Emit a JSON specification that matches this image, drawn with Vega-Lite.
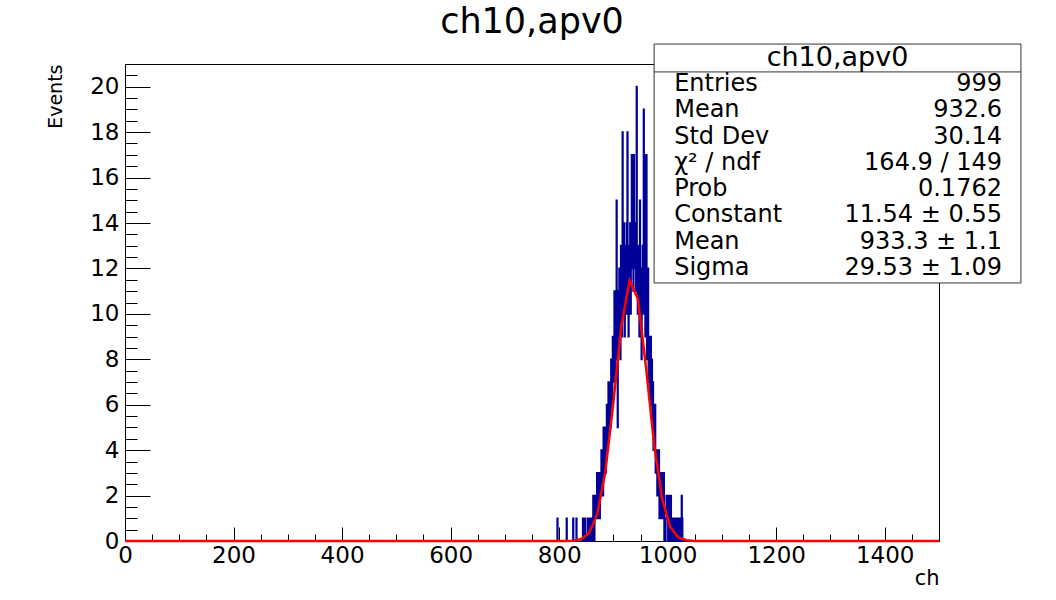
{
  "$schema": "https://vega.github.io/schema/vega-lite/v6.json",
  "width": 814,
  "height": 477,
  "autosize": {"type": "none"},
  "padding": {"left": 125, "top": 64, "right": 117, "bottom": 59},
  "background": "white",
  "config": {
    "font": "DejaVu Sans",
    "view": {"stroke": "black", "strokeWidth": 1}
  },
  "title": {
    "text": "ch10,apv0",
    "fontSize": 35,
    "font": "DejaVu Sans",
    "fontWeight": "normal",
    "color": "black",
    "anchor": "middle",
    "frame": "group",
    "offset": 4
  },
  "datasets": {
    "hist": [
      {"ch": 0, "n": 0}, {"ch": 796, "n": 0}, {"ch": 797, "n": 1}, {"ch": 798, "n": 0},
      {"ch": 813, "n": 0}, {"ch": 814, "n": 1}, {"ch": 815, "n": 0},
      {"ch": 825, "n": 0}, {"ch": 826, "n": 1}, {"ch": 827, "n": 0},
      {"ch": 831, "n": 0}, {"ch": 832, "n": 1}, {"ch": 833, "n": 0},
      {"ch": 843, "n": 0}, {"ch": 844, "n": 1}, {"ch": 845, "n": 0},
      {"ch": 847, "n": 0}, {"ch": 848, "n": 1}, {"ch": 849, "n": 0},
      {"ch": 852, "n": 0}, {"ch": 853, "n": 1}, {"ch": 854, "n": 0},
      {"ch": 855, "n": 0}, {"ch": 856, "n": 1}, {"ch": 857, "n": 0}, {"ch": 858, "n": 1}, {"ch": 859, "n": 1},
      {"ch": 860, "n": 0}, {"ch": 861, "n": 1}, {"ch": 862, "n": 0}, {"ch": 863, "n": 2}, {"ch": 864, "n": 1},
      {"ch": 865, "n": 0}, {"ch": 866, "n": 2}, {"ch": 867, "n": 1}, {"ch": 868, "n": 1}, {"ch": 869, "n": 2},
      {"ch": 870, "n": 3}, {"ch": 871, "n": 1}, {"ch": 872, "n": 2}, {"ch": 873, "n": 3}, {"ch": 874, "n": 2},
      {"ch": 875, "n": 1}, {"ch": 876, "n": 3}, {"ch": 877, "n": 2}, {"ch": 878, "n": 4}, {"ch": 879, "n": 3},
      {"ch": 880, "n": 4}, {"ch": 881, "n": 2}, {"ch": 882, "n": 5}, {"ch": 883, "n": 3}, {"ch": 884, "n": 4},
      {"ch": 885, "n": 5}, {"ch": 886, "n": 3}, {"ch": 887, "n": 4}, {"ch": 888, "n": 6}, {"ch": 889, "n": 5},
      {"ch": 890, "n": 4}, {"ch": 891, "n": 7}, {"ch": 892, "n": 5}, {"ch": 893, "n": 6}, {"ch": 894, "n": 7},
      {"ch": 895, "n": 5}, {"ch": 896, "n": 8}, {"ch": 897, "n": 7}, {"ch": 898, "n": 6}, {"ch": 899, "n": 9},
      {"ch": 900, "n": 7}, {"ch": 901, "n": 8}, {"ch": 902, "n": 11}, {"ch": 903, "n": 7}, {"ch": 904, "n": 9},
      {"ch": 905, "n": 10}, {"ch": 906, "n": 15}, {"ch": 907, "n": 8}, {"ch": 908, "n": 5}, {"ch": 909, "n": 11},
      {"ch": 910, "n": 9}, {"ch": 911, "n": 12}, {"ch": 912, "n": 10}, {"ch": 913, "n": 8}, {"ch": 914, "n": 13},
      {"ch": 915, "n": 11}, {"ch": 916, "n": 9}, {"ch": 917, "n": 18}, {"ch": 918, "n": 10}, {"ch": 919, "n": 12},
      {"ch": 920, "n": 14}, {"ch": 921, "n": 9}, {"ch": 922, "n": 13}, {"ch": 923, "n": 11}, {"ch": 924, "n": 10},
      {"ch": 925, "n": 14}, {"ch": 926, "n": 18}, {"ch": 927, "n": 12}, {"ch": 928, "n": 9}, {"ch": 929, "n": 13},
      {"ch": 930, "n": 11}, {"ch": 931, "n": 14}, {"ch": 932, "n": 10}, {"ch": 933, "n": 12}, {"ch": 934, "n": 17},
      {"ch": 935, "n": 13}, {"ch": 936, "n": 15}, {"ch": 937, "n": 11}, {"ch": 938, "n": 17}, {"ch": 939, "n": 12},
      {"ch": 940, "n": 14}, {"ch": 941, "n": 13}, {"ch": 942, "n": 11}, {"ch": 943, "n": 20}, {"ch": 944, "n": 12},
      {"ch": 945, "n": 10}, {"ch": 946, "n": 13}, {"ch": 947, "n": 11}, {"ch": 948, "n": 9}, {"ch": 949, "n": 15},
      {"ch": 950, "n": 10}, {"ch": 951, "n": 12}, {"ch": 952, "n": 8}, {"ch": 953, "n": 11}, {"ch": 954, "n": 13},
      {"ch": 955, "n": 10}, {"ch": 956, "n": 19}, {"ch": 957, "n": 12}, {"ch": 958, "n": 17}, {"ch": 959, "n": 9},
      {"ch": 960, "n": 11}, {"ch": 961, "n": 17}, {"ch": 962, "n": 8}, {"ch": 963, "n": 10}, {"ch": 964, "n": 12},
      {"ch": 965, "n": 7}, {"ch": 966, "n": 9}, {"ch": 967, "n": 8}, {"ch": 968, "n": 6}, {"ch": 969, "n": 9},
      {"ch": 970, "n": 7}, {"ch": 971, "n": 8}, {"ch": 972, "n": 5}, {"ch": 973, "n": 7}, {"ch": 974, "n": 4},
      {"ch": 975, "n": 6}, {"ch": 976, "n": 5}, {"ch": 977, "n": 6}, {"ch": 978, "n": 3}, {"ch": 979, "n": 4},
      {"ch": 980, "n": 4}, {"ch": 981, "n": 2}, {"ch": 982, "n": 4}, {"ch": 983, "n": 2}, {"ch": 984, "n": 4},
      {"ch": 985, "n": 1}, {"ch": 986, "n": 3}, {"ch": 987, "n": 2}, {"ch": 988, "n": 1}, {"ch": 989, "n": 3},
      {"ch": 990, "n": 3}, {"ch": 991, "n": 1}, {"ch": 992, "n": 2}, {"ch": 993, "n": 3}, {"ch": 994, "n": 0},
      {"ch": 995, "n": 1}, {"ch": 996, "n": 0}, {"ch": 997, "n": 1}, {"ch": 998, "n": 2}, {"ch": 999, "n": 2},
      {"ch": 1000, "n": 1}, {"ch": 1001, "n": 0}, {"ch": 1002, "n": 1}, {"ch": 1003, "n": 2}, {"ch": 1004, "n": 0},
      {"ch": 1005, "n": 1}, {"ch": 1006, "n": 2}, {"ch": 1007, "n": 0}, {"ch": 1008, "n": 1}, {"ch": 1009, "n": 0},
      {"ch": 1010, "n": 1}, {"ch": 1011, "n": 0}, {"ch": 1013, "n": 0}, {"ch": 1014, "n": 1}, {"ch": 1015, "n": 0},
      {"ch": 1017, "n": 0}, {"ch": 1018, "n": 1}, {"ch": 1019, "n": 0}, {"ch": 1021, "n": 0}, {"ch": 1022, "n": 1},
      {"ch": 1023, "n": 0}, {"ch": 1025, "n": 0}, {"ch": 1026, "n": 2}, {"ch": 1027, "n": 1}, {"ch": 1028, "n": 0},
      {"ch": 1500, "n": 0}
    ],
    "fit": [
      {"ch": 0, "n": 0}, {"ch": 810, "n": 0.002}, {"ch": 825, "n": 0.014}, {"ch": 840, "n": 0.079},
      {"ch": 855, "n": 0.343}, {"ch": 870, "n": 1.160}, {"ch": 885, "n": 3.029}, {"ch": 900, "n": 6.110},
      {"ch": 915, "n": 9.524}, {"ch": 930, "n": 11.468}, {"ch": 945, "n": 10.669}, {"ch": 960, "n": 7.667},
      {"ch": 975, "n": 4.258}, {"ch": 990, "n": 1.827}, {"ch": 1005, "n": 0.606}, {"ch": 1020, "n": 0.155},
      {"ch": 1035, "n": 0.031}, {"ch": 1050, "n": 0.005}, {"ch": 1065, "n": 0.0006}, {"ch": 1500, "n": 0}
    ],
    "box": [
      {"title": "ch10,apv0"}
    ],
    "stats": [
      {"k": 0, "label": "Entries", "value": "999"},
      {"k": 1, "label": "Mean", "value": "932.6"},
      {"k": 2, "label": "Std Dev", "value": "30.14"},
      {"k": 3, "label": "χ² / ndf", "value": "164.9 / 149"},
      {"k": 4, "label": "Prob", "value": "0.1762"},
      {"k": 5, "label": "Constant", "value": "11.54 ± 0.55"},
      {"k": 6, "label": "Mean", "value": "933.3 ± 1.1"},
      {"k": 7, "label": "Sigma", "value": "29.53 ± 1.09"}
    ]
  },
  "layer": [
    {
      "encoding": {
        "x": {
          "field": "ch", "type": "quantitative",
          "scale": {"domain": [0, 1500], "nice": false, "zero": false},
          "axis": {
            "title": "ch",
            "values": [0,50,100,150,200,250,300,350,400,450,500,550,600,650,700,750,800,850,900,950,1000,1050,1100,1150,1200,1250,1300,1350,1400,1450,1500],
            "labelExpr": "datum.value % 200 === 0 ? format(datum.value, 'd') : ''",
            "tickSize": {"condition": {"test": "datum.value % 200 === 0", "value": -14}, "value": -7},
            "tickColor": "black", "tickWidth": 1,
            "domainColor": "black",
            "grid": false,
            "labelFontSize": 23, "labelColor": "black", "labelPadding": 17,
            "labelOverlap": false, "labelFlush": false,
            "titleFontSize": 21, "titleFontWeight": "normal", "titleColor": "black",
            "titleAnchor": "end", "titlePadding": -7
          }
        },
        "y": {
          "field": "n", "type": "quantitative",
          "scale": {"domain": [0, 21], "nice": false, "zero": true},
          "axis": {
            "title": "Events",
            "values": [0,0.5,1,1.5,2,2.5,3,3.5,4,4.5,5,5.5,6,6.5,7,7.5,8,8.5,9,9.5,10,10.5,11,11.5,12,12.5,13,13.5,14,14.5,15,15.5,16,16.5,17,17.5,18,18.5,19,19.5,20,20.5],
            "labelExpr": "datum.value % 2 === 0 ? format(datum.value, 'd') : ''",
            "tickSize": {"condition": {"test": "datum.value % 2 === 0", "value": -25}, "value": -12},
            "tickColor": "black", "tickWidth": 1,
            "domainColor": "black",
            "grid": false,
            "labelFontSize": 23, "labelColor": "black", "labelPadding": 31,
            "labelOverlap": false, "labelFlush": false,
            "titleFontSize": 19, "titleFontWeight": "normal", "titleColor": "black",
            "titleAnchor": "end", "titlePadding": 24
          }
        }
      },
      "layer": [
        {"data": {"name": "hist"}, "mark": {"type": "line", "interpolate": "step", "color": "#000099", "strokeWidth": 1.7}},
        {"data": {"name": "fit"}, "mark": {"type": "line", "color": "#ff0000", "strokeWidth": 2.5}}
      ]
    },
    {
      "layer": [
        {
          "data": {"name": "box"},
          "mark": {"type": "rect", "fill": "white", "stroke": "#333333", "strokeWidth": 1},
          "encoding": {
            "x": {"datum": 975, "type": "quantitative", "scale": {"domain": [0, 1500], "nice": false, "zero": false}, "axis": null},
            "x2": {"datum": 1651},
            "y": {"datum": -1.52, "type": "quantitative", "scale": {"domain": [-0.761, 17.386], "nice": false, "zero": false, "reverse": true}, "axis": null},
            "y2": {"datum": 7.57}
          }
        },
        {
          "data": {"name": "box"},
          "mark": {"type": "rule", "stroke": "#333333", "strokeWidth": 1},
          "encoding": {
            "x": {"datum": 975, "type": "quantitative", "scale": {"domain": [0, 1500], "nice": false, "zero": false}, "axis": null},
            "x2": {"datum": 1651},
            "y": {"datum": -0.46, "type": "quantitative", "scale": {"domain": [-0.761, 17.386], "nice": false, "zero": false, "reverse": true}, "axis": null}
          }
        },
        {
          "data": {"name": "box"},
          "mark": {"type": "text", "fontSize": 27, "align": "center", "baseline": "middle", "color": "black"},
          "encoding": {
            "x": {"datum": 1313, "type": "quantitative", "scale": {"domain": [0, 1500], "nice": false, "zero": false}, "axis": null},
            "y": {"datum": -1, "type": "quantitative", "scale": {"domain": [-0.761, 17.386], "nice": false, "zero": false, "reverse": true}, "axis": null},
            "text": {"field": "title"}
          }
        },
        {
          "data": {"name": "stats"},
          "mark": {"type": "text", "fontSize": 24, "align": "left", "baseline": "middle", "color": "black"},
          "encoding": {
            "x": {"datum": 1012, "type": "quantitative", "scale": {"domain": [0, 1500], "nice": false, "zero": false}, "axis": null},
            "y": {"field": "k", "type": "quantitative", "scale": {"domain": [-0.761, 17.386], "nice": false, "zero": false, "reverse": true}, "axis": null},
            "text": {"field": "label"}
          }
        },
        {
          "data": {"name": "stats"},
          "mark": {"type": "text", "fontSize": 24, "align": "right", "baseline": "middle", "color": "black"},
          "encoding": {
            "x": {"datum": 1616, "type": "quantitative", "scale": {"domain": [0, 1500], "nice": false, "zero": false}, "axis": null},
            "y": {"field": "k", "type": "quantitative", "scale": {"domain": [-0.761, 17.386], "nice": false, "zero": false, "reverse": true}, "axis": null},
            "text": {"field": "value"}
          }
        }
      ]
    }
  ],
  "resolve": {"scale": {"y": "independent"}, "axis": {"x": "independent", "y": "independent"}}
}
